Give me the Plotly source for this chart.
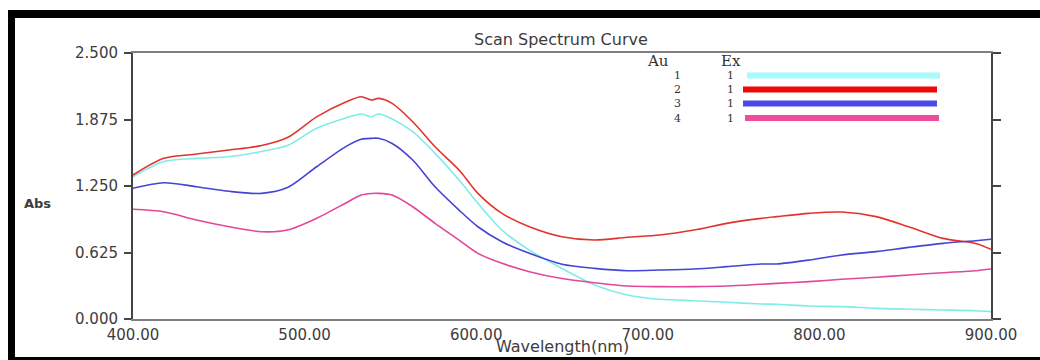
import plotly.graph_objects as go

# Wavelength grid (nm) and absorbance of the four scans
wavelength = [400, 418, 437, 456, 475, 490, 507, 524, 533, 539, 543, 551, 563, 576,
              590, 601, 615, 631, 650, 669, 688, 707, 727, 746, 766, 775, 794, 813,
              833, 852, 872, 891, 900]

abs_1 = [1.337, 1.48, 1.51, 1.525, 1.575, 1.63, 1.792, 1.89, 1.927, 1.901, 1.927, 1.88,
         1.760, 1.557, 1.306, 1.087, 0.836, 0.648, 0.475, 0.320, 0.226, 0.185, 0.172,
         0.157, 0.141, 0.138, 0.122, 0.116, 0.100, 0.091, 0.085, 0.078, 0.069]
abs_2 = [1.353, 1.51, 1.55, 1.588, 1.63, 1.705, 1.90, 2.04, 2.089, 2.058, 2.074, 2.027,
         1.854, 1.619, 1.400, 1.181, 0.993, 0.867, 0.773, 0.742, 0.768, 0.789, 0.836,
         0.899, 0.946, 0.962, 0.993, 1.005, 0.962, 0.867, 0.758, 0.71, 0.655]
abs_3 = [1.228, 1.281, 1.243, 1.20, 1.181, 1.235, 1.431, 1.62, 1.689, 1.698, 1.698, 1.65,
         1.494, 1.243, 1.024, 0.867, 0.726, 0.617, 0.515, 0.476, 0.454, 0.460, 0.470,
         0.492, 0.517, 0.517, 0.554, 0.601, 0.633, 0.673, 0.711, 0.736, 0.749]
abs_4 = [1.031, 1.008, 0.930, 0.867, 0.820, 0.836, 0.946, 1.09, 1.165, 1.18, 1.181, 1.165,
         1.055, 0.899, 0.742, 0.617, 0.523, 0.445, 0.38, 0.341, 0.310, 0.304, 0.304,
         0.310, 0.326, 0.335, 0.351, 0.373, 0.392, 0.414, 0.435, 0.454, 0.470]

series = [abs_1, abs_2, abs_3, abs_4]
au_labels = ["1", "2", "3", "4"]
ex_labels = ["1", "1", "1", "1"]

y_ticks = [0.0, 0.625, 1.25, 1.875, 2.5]
x_ticks = [400, 500, 600, 700, 800, 900]

line_colors = ["#7fece8", "#e3342c", "#4444d6", "#e2479a"]
key_colors = ["#a6fbfb", "#f00808", "#4a4aea", "#ef4c9c"]

W, H = 1040, 360
L, R, T, B = 133, 991, 53, 319   # plot-area pixel box


def px(x):
    return (x - L) / (R - L)


def py(y):
    return (B - y) / (B - T)


fig = go.Figure()
for vals, col in zip(series, line_colors):
    fig.add_trace(go.Scatter(x=wavelength, y=vals, mode="lines",
                             line=dict(color=col, width=1.6, shape="spline", smoothing=0.8),
                             showlegend=False, hoverinfo="skip"))
# invisible trace so the right-hand axis is drawn
fig.add_trace(go.Scatter(x=[wavelength[0]], y=[0], yaxis="y2", mode="markers",
                         marker=dict(opacity=0), showlegend=False, hoverinfo="skip"))

tick_font = dict(family="DejaVu Sans, Verdana, sans-serif", size=15, color="#3c3c3c")

fig.update_layout(
    width=W, height=H,
    margin=dict(l=L, r=W - R, t=T, b=H - B),
    paper_bgcolor="white", plot_bgcolor="white",
    xaxis=dict(range=[400, 900], tickvals=x_ticks, tickformat=".2f",
               showgrid=False, zeroline=False, showline=True, mirror=True,
               linecolor="#808080", linewidth=2, ticks="", tickfont=tick_font,
               ticklabelstandoff=1),
    yaxis=dict(range=[0, 2.5], tickvals=y_ticks, tickformat=".3f",
               showgrid=False, zeroline=False, showline=True,
               linecolor="#444444", linewidth=2, ticks="outside", ticklen=7,
               tickwidth=1.5, tickcolor="#444444", tickfont=tick_font,
               ticklabelstandoff=3),
    yaxis2=dict(range=[0, 2.5], tickvals=y_ticks, overlaying="y", side="right",
                showgrid=False, zeroline=False, showline=True,
                linecolor="#444444", linewidth=2, ticks="outside", ticklen=8,
                tickwidth=1.5, tickcolor="#444444", showticklabels=False),
)

shapes = []
# black frame around the window
shapes.append(dict(type="rect", xref="paper", yref="paper",
                   x0=px(8), x1=px(W + 5), y0=py(18), y1=py(10),
                   fillcolor="black", line=dict(width=0), layer="above"))
shapes.append(dict(type="rect", xref="paper", yref="paper",
                   x0=px(8), x1=px(15), y0=py(H + 5), y1=py(10),
                   fillcolor="black", line=dict(width=0), layer="above"))
shapes.append(dict(type="rect", xref="paper", yref="paper",
                   x0=px(8), x1=px(W + 5), y0=py(H + 5), y1=py(357),
                   fillcolor="black", line=dict(width=0), layer="above"))

# key swatches
key_rows = [75.5, 89.5, 103.5, 118]
key_x = [(747, 940), (743, 937), (743, 937), (745, 939)]
for col, yrow, (xa, xb) in zip(key_colors, key_rows, key_x):
    shapes.append(dict(type="line", xref="paper", yref="paper",
                       x0=px(xa), x1=px(xb), y0=py(yrow), y1=py(yrow),
                       line=dict(color=col, width=6)))
fig.update_layout(shapes=shapes)


def label(text, x, y, font):
    return dict(text=text, x=px(x), y=py(y), xref="paper", yref="paper",
                xanchor="center", yanchor="middle", showarrow=False, font=font)


serif = dict(family="DejaVu Serif, Liberation Serif, serif", size=11, color="#333333")
ann = [label("Au", 658, 61, dict(serif, size=15)),
       label("Ex", 731, 61, dict(serif, size=15))]
for a, e, yrow in zip(au_labels, ex_labels, key_rows):
    ann.append(label(a, 677, yrow, serif))
    ann.append(label(e, 730, yrow, serif))

lab_font = dict(family="DejaVu Sans, Verdana, sans-serif", size=16, color="#3c3c3c")
ann.append(label("Scan Spectrum Curve", 561, 39, lab_font))
ann.append(label("Wavelength(nm)", 562, 346, lab_font))
ann.append(label("<b>Abs</b>", 37, 203, dict(lab_font, size=13)))
fig.update_layout(annotations=ann)

fig.write_html("out.html")
